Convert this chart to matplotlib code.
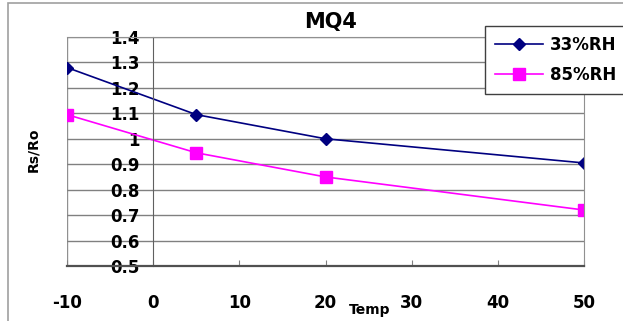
import matplotlib.pyplot as plt
from matplotlib.patches import Rectangle
from matplotlib.ticker import FormatStrFormatter

plt.rcParams["axes.unicode_minus"] = False

# Rs/Ro contra temperatura, dos humedades
temp = [-10, 5, 20, 50]
rh33 = [1.28, 1.095, 1.0, 0.905]
rh85 = [1.095, 0.945, 0.85, 0.72]
series_labels = ["33%RH", "85%RH"]
y_ticks = [0.5, 0.6, 0.7, 0.8, 0.9, 1.0, 1.1, 1.2, 1.3, 1.4]
x_ticks = [-10, 0, 10, 20, 30, 40, 50]

fig = plt.figure(figsize=(6.23, 3.21), dpi=100)
fig.patches.append(Rectangle((8/623, -0.05), 1.2, 1 - 3/321 + 0.05,
                             transform=fig.transFigure, fill=False,
                             edgecolor="#a0a0a0", linewidth=1.2))

ax = fig.add_axes([67/623, 55/321, 517/623, 229/321])
ax.plot(temp, rh33, color="#000080", marker="D", markersize=6.5,
        linewidth=1.2, label=series_labels[0])
ax.plot(temp, rh85, color="#ff00ff", marker="s", markersize=8.5,
        linewidth=1.2, label=series_labels[1])

ax.set_xlim(-10, 50)
ax.set_ylim(0.5, 1.4)
ax.set_xticks(x_ticks)
ax.set_yticks(y_ticks)
ax.yaxis.set_major_formatter(FormatStrFormatter("%g"))
ax.grid(axis="y", color="#808080", linewidth=1.0)
ax.set_axisbelow(True)

# eje y cruzando en 0, linea extra en -10
ax.spines["left"].set_position(("data", 0))
ax.spines["left"].set_color("#606060")
ax.axvline(-10, color="#909090", linewidth=1.0, zorder=0)
for s in ["right", "top"]:
    ax.spines[s].set_color("#909090")
ax.spines["bottom"].set_color("#505050")
ax.spines["bottom"].set_linewidth(1.6)

ax.tick_params(axis="y", length=0, pad=10, labelsize=12)
ax.tick_params(axis="x", direction="in", length=4, color="#808080",
               pad=20, labelsize=12)
for lab in ax.get_xticklabels() + ax.get_yticklabels():
    lab.set_fontweight("heavy")

fig.text(331/623, 1 - 22/321, "MQ4", ha="center", va="center",
         fontsize=15, fontweight="heavy")
fig.text(370/623, 1 - 310/321, "Temp", ha="center", va="center",
         fontsize=10, fontweight="heavy")
fig.text(33/623, 1 - 150/321, "Rs/Ro", ha="center", va="center",
         rotation=90, fontsize=10, fontweight="heavy")

leg = fig.legend(loc="upper left", bbox_to_anchor=(485/623, 1 - 26/321),
                 prop={"size": 12, "weight": "heavy"}, handlelength=2.9,
                 fancybox=False, framealpha=1, edgecolor="#404040",
                 borderpad=0.6, labelspacing=0.7, handletextpad=0.4,
                 borderaxespad=0)
leg.get_frame().set_linewidth(1.0)

fig.savefig("out.png", dpi=100)
